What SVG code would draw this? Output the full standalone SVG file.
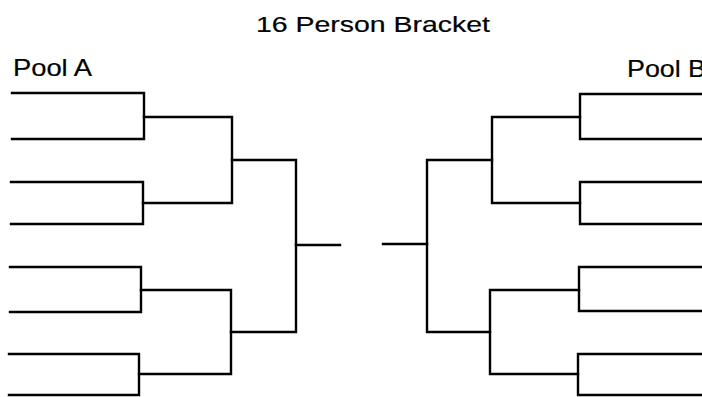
<svg xmlns="http://www.w3.org/2000/svg" width="702" height="397" viewBox="0 0 702 397">
<style>
  .ln { fill: none; stroke: #000; stroke-width: 2.4; stroke-linejoin: miter; stroke-linecap: square; }
  .title { font-family: "Liberation Sans", Arial, sans-serif; font-size: 22px; fill: #000; stroke: #000; stroke-width: 0.2; }
  .pool { font-family: "Liberation Sans", Arial, sans-serif; font-size: 24px; fill: #000; stroke: #000; stroke-width: 0.2; }
</style>
<rect width="702" height="397" fill="#fff"/>
<g id="title">
  <text class="title" x="256" y="32" textLength="234" lengthAdjust="spacingAndGlyphs">16 Person Bracket</text>
</g>
<g id="pool-a-label">
  <text class="pool" x="13" y="76" textLength="79" lengthAdjust="spacingAndGlyphs">Pool A</text>
</g>
<g id="pool-b-label">
  <text class="pool" x="627" y="77" textLength="79" lengthAdjust="spacingAndGlyphs">Pool B</text>
</g>
<g id="connectors">
  <!-- Pool A, round 1 -->
  <g id="a-r1-m1"><path class="ln" d="M12,93 H144 V139 H12"/></g>
  <g id="a-r1-m2"><path class="ln" d="M11,182 H143 V224 H11"/></g>
  <g id="a-r1-m3"><path class="ln" d="M10,267 H141 V312 H10"/></g>
  <g id="a-r1-m4"><path class="ln" d="M9,354 H139 V395 H9"/></g>
  <!-- Pool A, round 2 -->
  <g id="a-r2-m1"><path class="ln" d="M144,117 H232 V203 H143"/></g>
  <g id="a-r2-m2"><path class="ln" d="M141,290 H231 V374 H139"/></g>
  <!-- Pool A, round 3 -->
  <g id="a-r3"><path class="ln" d="M232,160 H296 V332 H231"/></g>
  <g id="a-final"><path class="ln" d="M296,245 H340"/></g>
  <!-- Pool B, round 1 -->
  <g id="b-r1-m1"><path class="ln" d="M703,94 H580 V139 H703"/></g>
  <g id="b-r1-m2"><path class="ln" d="M703,182 H580 V224 H703"/></g>
  <g id="b-r1-m3"><path class="ln" d="M703,267 H579 V311 H703"/></g>
  <g id="b-r1-m4"><path class="ln" d="M703,354 H578 V395 H703"/></g>
  <!-- Pool B, round 2 -->
  <g id="b-r2-m1"><path class="ln" d="M580,117 H492 V203 H580"/></g>
  <g id="b-r2-m2"><path class="ln" d="M579,290 H490 V374 H578"/></g>
  <!-- Pool B, round 3 -->
  <g id="b-r3"><path class="ln" d="M492,160 H427 V332 H490"/></g>
  <g id="b-final"><path class="ln" d="M427,244 H383"/></g>
</g>
</svg>
